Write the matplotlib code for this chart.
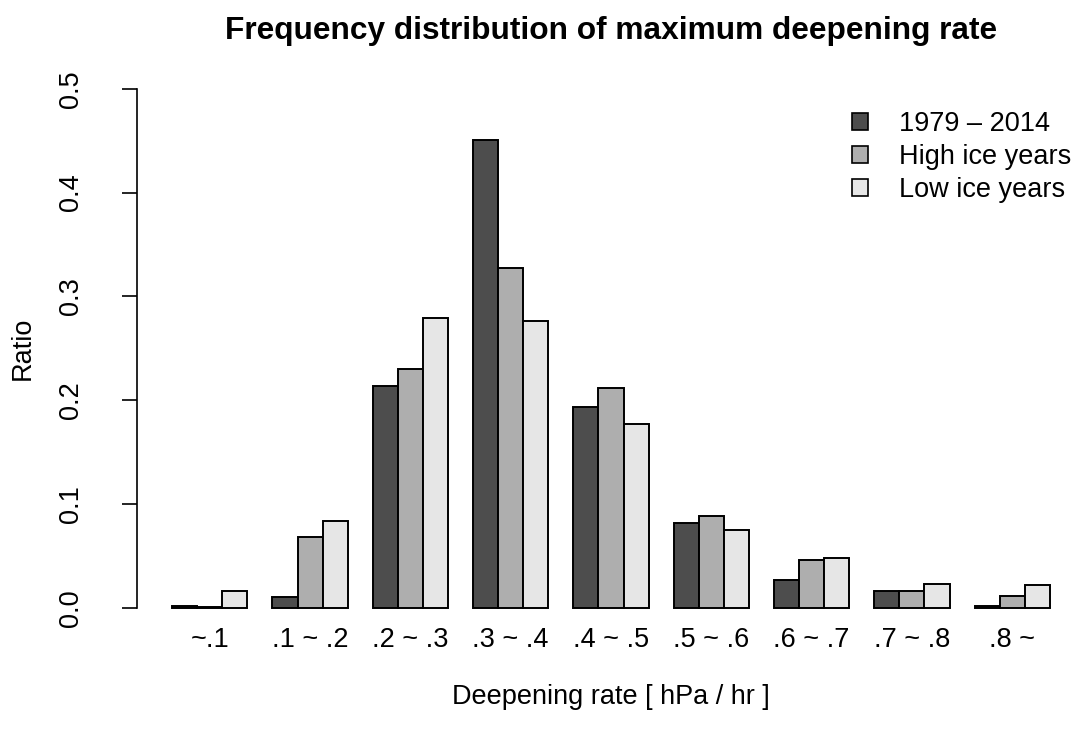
import numpy as np
import matplotlib.pyplot as plt
from matplotlib.patches import Patch

plt.rcParams['font.family'] = ['Liberation Sans', 'DejaVu Sans']

# Data
categories = ['~.1', '.1 ~ .2', '.2 ~ .3', '.3 ~ .4', '.4 ~ .5',
              '.5 ~ .6', '.6 ~ .7', '.7 ~ .8', '.8 ~']
all_years = [0.002, 0.011, 0.214, 0.451, 0.194, 0.082, 0.027, 0.016, 0.002]
high_ice = [0.001, 0.068, 0.230, 0.327, 0.212, 0.089, 0.046, 0.016, 0.012]
low_ice = [0.016, 0.084, 0.279, 0.276, 0.177, 0.075, 0.048, 0.023, 0.022]
series_names = ['1979 \u2013 2014', 'High ice years', 'Low ice years']
colors = ['#4D4D4D', '#AEAEAE', '#E6E6E6']

fs = 19.5

fig = plt.figure(figsize=(10.8, 7.44), dpi=100)
ax = fig.add_axes([137 / 1080, 115.2 / 744, 948 / 1080, 560.8 / 744])

# R barplot(beside=TRUE) layout: bars of width 1, one unit gap between groups
n = len(categories)
group_start = 1 + 4 * np.arange(n)
for i, vals in enumerate([all_years, high_ice, low_ice]):
    ax.bar(group_start + i, vals, width=1, align='edge', color=colors[i],
           edgecolor='black', linewidth=1.4, label=series_names[i])

ax.set_xlim(-0.4, 37.4)
ax.set_ylim(-0.02, 0.52)
for s in ['top', 'right', 'bottom']:
    ax.spines[s].set_visible(False)
ax.spines['left'].set_bounds(0, 0.5)
ax.spines['left'].set_linewidth(1.2)

ax.set_yticks([0.0, 0.1, 0.2, 0.3, 0.4, 0.5])
ax.set_yticklabels(['0.0', '0.1', '0.2', '0.3', '0.4', '0.5'], rotation=90,
                   va='center', fontsize=fs)
ax.tick_params(axis='y', length=11, width=1.2, pad=27)

ax.set_xticks(group_start + 1.5)
ax.set_xticklabels(categories, fontsize=fs)
ax.tick_params(axis='x', length=0, pad=-1)

ax.set_xlabel('Deepening rate [ hPa / hr ]', fontsize=fs, labelpad=22)
ax.set_ylabel('Ratio', fontsize=fs, labelpad=16)
fig.text(611 / 1080, 1 - 31 / 744, 'Frequency distribution of maximum deepening rate',
         ha='center', va='center', fontsize=22.8, fontweight='bold')

handles = [Patch(facecolor=c, edgecolor='black', linewidth=1.2) for c in colors]
fig.legend(handles, series_names, loc='upper left',
           bbox_to_anchor=(852 / 1080, 1 - 111 / 744), bbox_transform=fig.transFigure,
           frameon=False, fontsize=fs, handlelength=0.6, handleheight=0.6,
           handletextpad=1.15, labelspacing=0.26, borderpad=0, borderaxespad=0)

fig.savefig('out.png', dpi=100)
